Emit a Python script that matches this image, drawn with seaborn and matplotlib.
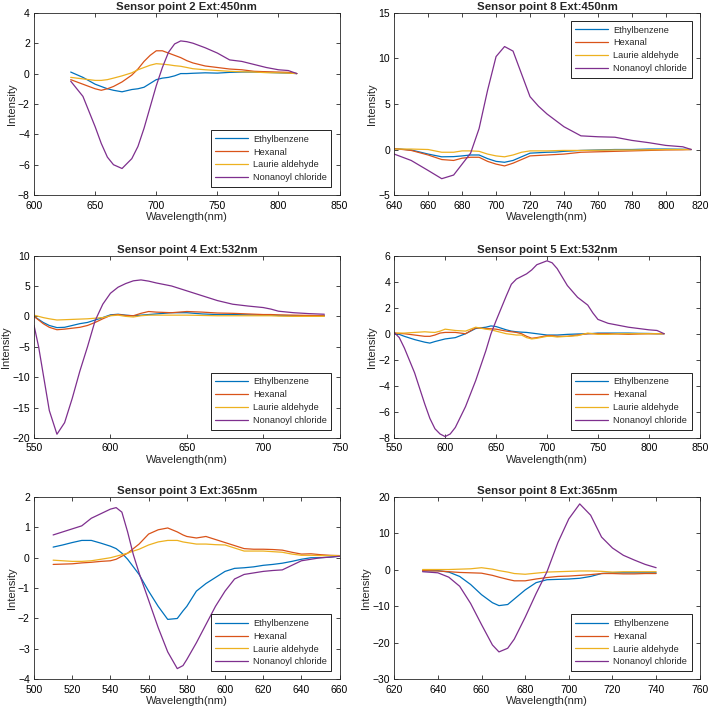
import matplotlib
matplotlib.use("Agg")
import matplotlib.pyplot as plt
import pandas as pd
import seaborn as sns

compounds = ["Ethylbenzene", "Hexanal", "Laurie aldehyde", "Nonanoyl chloride"]
colors = ["#0072BD", "#D95319", "#EDB120", "#7E2F8E"]

# Sensor point 2 Ext:450nm
p1_wl = [630, 640, 650, 655, 660, 665, 672, 680, 685, 690, 695, 700, 705, 710,
         715, 720, 725, 730, 740, 750, 760, 770, 780, 790, 800, 808, 815]
p1_eth = [0.1, -0.25, -0.7, -0.85, -1.0, -1.1, -1.2, -1.05, -1.0, -0.9, -0.65, -0.4, -0.3, -0.25,
          -0.15, 0.0, 0.0, 0.02, 0.05, 0.03, 0.08, 0.1, 0.1, 0.08, 0.05, 0.03, 0.0]
p1_hex = [-0.4, -0.7, -1.0, -1.1, -1.0, -0.85, -0.55, -0.1, 0.3, 0.8, 1.2, 1.5, 1.5, 1.35,
          1.2, 1.05, 0.85, 0.7, 0.5, 0.4, 0.3, 0.25, 0.15, 0.12, 0.1, 0.08, 0.0]
p1_lau = [-0.25, -0.35, -0.45, -0.45, -0.4, -0.3, -0.15, 0.05, 0.25, 0.4, 0.55, 0.65, 0.62, 0.58,
          0.52, 0.48, 0.4, 0.32, 0.25, 0.2, 0.15, 0.12, 0.1, 0.06, 0.05, 0.03, 0.0]
p1_non = [-0.5, -1.5, -3.5, -4.6, -5.5, -6.0, -6.25, -5.6, -4.8, -3.6, -2.2, -0.8, 0.4, 1.4,
          1.95, 2.15, 2.1, 2.0, 1.7, 1.35, 0.9, 0.8, 0.6, 0.4, 0.25, 0.2, 0.0]

# Sensor point 8 Ext:450nm
p2_wl = [640, 650, 660, 668, 675, 680, 685, 690, 695, 700, 705, 710, 715, 720,
         725, 730, 735, 740, 750, 760, 770, 780, 790, 800, 810, 815]
p2_eth = [0.1, -0.05, -0.5, -0.8, -0.78, -0.7, -0.6, -0.6, -1.0, -1.3, -1.4, -1.2, -0.8, -0.4,
          -0.35, -0.3, -0.28, -0.2, -0.1, -0.05, 0.0, 0.0, 0.05, 0.05, 0.03, 0.0]
p2_hex = [0.1, -0.1, -0.6, -1.1, -1.2, -0.95, -0.85, -0.85, -1.3, -1.6, -1.8, -1.5, -1.1, -0.7,
          -0.65, -0.6, -0.55, -0.5, -0.3, -0.25, -0.2, -0.15, -0.1, -0.05, -0.03, 0.0]
p2_lau = [0.05, 0.05, 0.0, -0.3, -0.3, -0.15, -0.15, -0.2, -0.5, -0.7, -0.8, -0.6, -0.3, -0.15,
          -0.15, -0.15, -0.12, -0.1, -0.1, -0.08, -0.05, -0.05, -0.03, 0.0, 0.0, 0.0]
p2_non = [-0.5, -1.2, -2.3, -3.2, -2.8, -1.6, -0.4, 2.3, 6.5, 10.2, 11.3, 10.8, 8.3, 5.8,
          4.75, 3.9, 3.2, 2.5, 1.5, 1.4, 1.35, 1.0, 0.75, 0.45, 0.3, 0.0]

# Sensor point 4 Ext:532nm
p3_wl = [550, 553, 556, 560, 565, 570, 575, 580, 585, 590, 595, 600, 605, 610, 615,
         620, 625, 630, 640, 650, 660, 670, 680, 690, 700, 705, 710, 720, 730, 740]
p3_eth = [0.0, -0.5, -1.0, -1.5, -1.85, -1.8, -1.5, -1.2, -1.0, -0.6, -0.2, 0.25, 0.35, 0.2, 0.1,
          0.2, 0.3, 0.4, 0.6, 0.6, 0.4, 0.3, 0.3, 0.25, 0.2, 0.2, 0.15, 0.1, 0.1, 0.1]
p3_hex = [0.0, -0.6, -1.2, -1.8, -2.2, -2.1, -1.95, -1.8, -1.5, -1.0, -0.4, 0.15, 0.3, 0.15, 0.1,
          0.5, 0.8, 0.7, 0.6, 0.8, 0.7, 0.55, 0.5, 0.4, 0.3, 0.3, 0.25, 0.2, 0.15, 0.1]
p3_lau = [0.2, 0.0, -0.2, -0.4, -0.6, -0.55, -0.5, -0.45, -0.4, -0.3, -0.2, 0.1, 0.2, 0.0, -0.1,
          0.1, 0.2, 0.2, 0.2, 0.2, 0.15, 0.1, 0.1, 0.1, 0.1, 0.1, 0.05, 0.0, 0.0, 0.0]
p3_non = [-1.5, -5.0, -9.5, -15.5, -19.4, -17.5, -13.5, -9.0, -5.0, -0.7, 2.0, 3.8, 4.8, 5.4, 5.85,
          6.0, 5.8, 5.5, 5.0, 4.2, 3.4, 2.6, 2.0, 1.7, 1.45, 1.2, 0.85, 0.6, 0.45, 0.35]

# Sensor point 5 Ext:532nm
p4_wl = [550, 555, 560, 570, 580, 585, 590, 595, 600, 605, 610, 620, 630, 640, 645, 650, 660, 665, 670,
         675, 680, 685, 690, 700, 705, 710, 720, 730, 740, 745, 750, 760, 770, 780, 790, 800, 808, 815]
p4_eth = [0.05, -0.05, -0.2, -0.45, -0.65, -0.72, -0.6, -0.5, -0.4, -0.35, -0.3, 0.0, 0.4, 0.5, 0.6, 0.55,
          0.3, 0.2, 0.15, 0.12, 0.1, 0.05, 0.0, -0.1, -0.1, -0.1, -0.05, -0.02, 0.0, 0.02, 0.05, 0.05,
          0.05, 0.05, 0.03, 0.02, 0.0, 0.0]
p4_hex = [0.05, 0.02, 0.0, -0.1, -0.2, -0.2, -0.1, 0.05, 0.1, 0.1, 0.1, 0.0, 0.45, 0.4, 0.38, 0.35,
          0.2, 0.15, 0.1, 0.0, -0.2, -0.35, -0.3, -0.15, -0.15, -0.2, -0.2, -0.1, 0.0, 0.0, 0.0, 0.0,
          -0.02, -0.05, -0.02, 0.0, 0.0, 0.0]
p4_lau = [0.05, 0.05, 0.05, 0.1, 0.15, 0.12, 0.1, 0.2, 0.35, 0.3, 0.25, 0.2, 0.5, 0.35, 0.3, 0.2,
          0.0, -0.05, -0.1, -0.1, -0.3, -0.4, -0.35, -0.2, -0.2, -0.25, -0.2, -0.15, 0.05, 0.0, -0.05,
          -0.05, 0.0, 0.0, 0.0, 0.0, 0.0, 0.0]
p4_non = [0.1, -0.3, -1.1, -3.0, -5.4, -6.5, -7.3, -7.7, -7.9, -7.7, -7.2, -5.6, -3.6, -1.3, 0.0, 1.0,
          2.9, 3.8, 4.2, 4.4, 4.6, 4.9, 5.3, 5.6, 5.45, 5.0, 3.7, 2.8, 2.2, 1.6, 1.1, 0.8, 0.65, 0.5,
          0.4, 0.3, 0.25, 0.0]

# Sensor point 3 Ext:365nm
p5_wl = [510, 515, 520, 525, 530, 535, 540, 543, 546, 549, 552, 555, 560, 565, 570, 575, 578,
         580, 585, 590, 595, 600, 605, 610, 615, 620, 625, 630, 635, 640, 645, 650, 655, 660]
p5_eth = [0.35, 0.42, 0.5, 0.57, 0.57, 0.48, 0.38, 0.3, 0.15, -0.05, -0.3, -0.55, -1.1, -1.6, -2.03,
          -2.0, -1.75, -1.6, -1.1, -0.85, -0.65, -0.45, -0.35, -0.33, -0.3, -0.25, -0.22, -0.18,
          -0.12, -0.05, 0.0, 0.0, 0.02, 0.05]
p5_hex = [-0.22, -0.21, -0.2, -0.17, -0.15, -0.12, -0.1, -0.05, 0.05, 0.15, 0.3, 0.45, 0.78, 0.92,
          0.98, 0.85, 0.75, 0.7, 0.65, 0.7, 0.6, 0.5, 0.4, 0.3, 0.28, 0.28, 0.27, 0.25, 0.18, 0.12,
          0.13, 0.1, 0.08, 0.07]
p5_lau = [-0.08, -0.1, -0.12, -0.12, -0.1, -0.05, 0.0, 0.05, 0.1, 0.15, 0.22, 0.28, 0.42, 0.52,
          0.57, 0.57, 0.52, 0.5, 0.45, 0.45, 0.43, 0.42, 0.32, 0.22, 0.22, 0.22, 0.2, 0.18, 0.12,
          0.08, 0.08, 0.07, 0.07, 0.07]
p5_non = [0.75, 0.85, 0.95, 1.05, 1.3, 1.45, 1.6, 1.65, 1.5, 0.85, 0.1, -0.5, -1.4, -2.3, -3.1,
          -3.65, -3.55, -3.35, -2.8, -2.2, -1.6, -1.1, -0.7, -0.55, -0.5, -0.45, -0.42, -0.4,
          -0.25, -0.1, -0.05, 0.0, 0.02, 0.05]

# Sensor point 8 Ext:365nm
p6_wl = [633, 640, 645, 650, 655, 660, 665, 668, 672, 675, 680, 685, 690, 695, 700, 705, 710,
         715, 720, 725, 730, 735, 740]
p6_eth = [-0.3, -0.2, -0.6, -1.8, -4.0, -6.8, -9.0, -9.8, -9.5, -8.0, -5.5, -3.5, -2.7, -2.6, -2.5,
          -2.3, -1.8, -1.0, -0.8, -0.8, -0.8, -0.8, -0.8]
p6_hex = [-0.2, -0.3, -0.5, -0.7, -0.8, -0.9, -1.5, -2.0, -2.6, -3.0, -3.0, -2.5, -2.1, -1.8, -1.7,
          -1.5, -1.3, -1.0, -1.0, -1.1, -1.1, -1.0, -1.0]
p6_lau = [0.1, 0.1, 0.1, 0.2, 0.3, 0.6, 0.2, -0.2, -0.6, -1.0, -1.2, -0.9, -0.6, -0.5, -0.4, -0.3,
          -0.3, -0.4, -0.6, -0.5, -0.5, -0.5, -0.5]
p6_non = [-0.5, -0.8, -2.0, -4.5, -9.2, -15.0, -20.6, -22.5, -21.5, -19.0, -13.0, -6.5, -0.5, 7.5,
          14.0, 18.1, 15.0, 9.0, 6.0, 4.0, 2.7, 1.5, 0.6]

panels = [
    ("Sensor point 2 Ext:450nm", p1_wl, [p1_eth, p1_hex, p1_lau, p1_non], (600, 850), (-8, 4), 2, "lower right"),
    ("Sensor point 8 Ext:450nm", p2_wl, [p2_eth, p2_hex, p2_lau, p2_non], (640, 820), (-5, 15), 5, "upper right"),
    ("Sensor point 4 Ext:532nm", p3_wl, [p3_eth, p3_hex, p3_lau, p3_non], (550, 750), (-20, 10), 5, "lower right"),
    ("Sensor point 5 Ext:532nm", p4_wl, [p4_eth, p4_hex, p4_lau, p4_non], (550, 850), (-8, 6), 2, "lower right"),
    ("Sensor point 3 Ext:365nm", p5_wl, [p5_eth, p5_hex, p5_lau, p5_non], (500, 660), (-4, 2), 1, "lower right"),
    ("Sensor point 8 Ext:365nm", p6_wl, [p6_eth, p6_hex, p6_lau, p6_non], (620, 760), (-30, 20), 10, "lower right"),
]
xsteps = [50, 20, 50, 50, 20, 20]

sns.set_style("ticks")
plt.rcParams["font.family"] = ["Liberation Sans", "DejaVu Sans"]
plt.rcParams["axes.edgecolor"] = "#262626"
plt.rcParams["axes.linewidth"] = 0.6

fig = plt.figure(figsize=(7.09, 7.12), dpi=100)
lefts = [0.048, 0.556]
bottoms = [0.726, 0.385, 0.046]

for i, (title, wl, series, xlim, ylim, ystep, loc) in enumerate(panels):
    ax = fig.add_axes([lefts[i % 2], bottoms[i // 2], 0.431, 0.256])
    frames = []
    for name, vals in zip(compounds, series):
        frames.append(pd.DataFrame({"Wavelength": wl, "Intensity": vals, "Compound": name}))
    df = pd.concat(frames, ignore_index=True)
    sns.lineplot(data=df, x="Wavelength", y="Intensity", hue="Compound",
                 hue_order=compounds, palette=colors, estimator=None, sort=False,
                 linewidth=0.9, ax=ax)
    ax.set_xlim(*xlim)
    ax.set_ylim(*ylim)
    ax.set_xticks(range(xlim[0], xlim[1] + 1, xsteps[i]))
    ax.set_yticks(range(ylim[0], ylim[1] + 1, ystep))
    ax.tick_params(direction="in", top=True, right=True, length=3, width=0.6,
                   labelsize=7.5, colors="#262626", labelcolor="black")
    ax.tick_params(axis="x", pad=4)
    ax.tick_params(axis="y", pad=3)
    ax.set_title(title, fontsize=8.2, fontweight="bold", pad=2)
    ax.set_xlabel("Wavelength(nm)", fontsize=8, labelpad=1)
    ax.set_ylabel("Intensity", fontsize=8, labelpad=1)
    leg = ax.legend(loc=loc, fontsize=6.6, frameon=True, fancybox=False,
                    handlelength=3.6, borderaxespad=0.9, labelspacing=0.42,
                    borderpad=0.5, handletextpad=0.5)
    leg.get_frame().set_edgecolor("black")
    leg.get_frame().set_linewidth(0.6)
    leg.get_frame().set_alpha(1)
    for line in leg.get_lines():
        line.set_linewidth(0.9)

fig.savefig("out.png", dpi=100)
